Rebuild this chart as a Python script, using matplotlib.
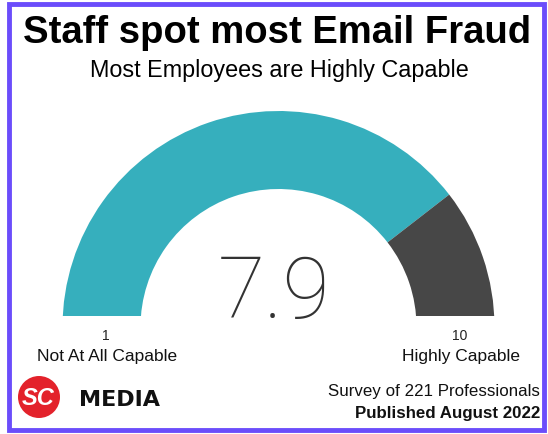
"""
Gauge: Staff spot most Email Fraud.
"""

import matplotlib.pyplot as plt
from matplotlib.patches import Wedge, Rectangle, Circle

# data
title = "Staff spot most Email Fraud"
subtitle = "Most Employees are Highly Capable"
score = 7.9
scale_min, scale_max = 0, 10
end_ticks = ["1", "10"]
end_labels = ["Not At All Capable", "Highly Capable"]
footer = ["Survey of 221 Professionals", "Published August 2022"]

TEAL = "#36afbd"
DARK = "#474747"
BORDER = "#6b4dfb"

W, H = 548, 435


def Y(py):
    # pixel row (from top) -> data y
    return H - py


def plot_gauge():
    fig = plt.figure(figsize=(W / 100, H / 100), dpi=100)
    ax = fig.add_axes([0, 0, 1, 1])
    ax.set_xlim(0, W)
    ax.set_ylim(0, H)
    ax.axis("off")

    # border
    ax.add_patch(Rectangle((9, Y(431)), 535, 426, fill=False,
                           ec=BORDER, lw=3.5))

    # gauge
    cx, cy = 278.5, Y(328)
    r_out, width = 216, 78
    frac = (score - scale_min) / (scale_max - scale_min)
    split = 180 - 180 * frac
    clip = Rectangle((0, Y(317)), W, 400, transform=ax.transData)
    for t1, t2, col in [(split, 180, TEAL), (0, split, DARK)]:
        w = Wedge((cx, cy), r_out, t1, t2, width=width, fc=col, ec="none")
        ax.add_patch(w)
        w.set_clip_path(clip)

    ax.text(cx - 4, Y(318), f"{score:.1f}", ha="center", va="baseline",
            fontsize=62, family=["Roboto", "DejaVu Sans"], fontweight="light",
            color="#333333")

    # titles
    ax.text(W / 2 + 3, Y(33), title, ha="center", va="center",
            fontsize=27.5, fontweight="bold", family="Liberation Sans")
    ax.text(W / 2 + 5, Y(71), subtitle, ha="center", va="center",
            fontsize=16.8, family="Liberation Sans")

    # ends of scale
    left_c = cx - r_out + width / 2
    right_c = cx + r_out - width / 2
    for x, tk, lb in zip([left_c, right_c], end_ticks, end_labels):
        ax.text(x + 4, Y(336), tk, ha="center", va="center", fontsize=10,
                family="Liberation Sans", color="#222222")
        ax.text(x + 6, Y(357), lb, ha="center", va="center", fontsize=12.5,
                family="Liberation Sans", color="#111111")

    # logo
    ax.add_patch(Circle((39, Y(398)), 21, fc="#e3222b", ec="none"))
    ax.text(38, Y(399), "SC", ha="center", va="center", fontsize=17,
            fontweight="bold", style="italic", color="white",
            family="Liberation Sans")
    ax.text(79, Y(400), "MEDIA", ha="left", va="center", fontsize=16,
            fontweight="bold", family="DejaVu Sans", color="#111111")

    # footer
    ax.text(540, Y(392), footer[0], ha="right", va="center", fontsize=12.2,
            family="Liberation Sans", color="#111111")
    ax.text(540, Y(414), footer[1], ha="right", va="center", fontsize=12.2,
            fontweight="bold", family="Liberation Sans", color="#111111")

    return fig


if __name__ == "__main__":
    fig = plot_gauge()
    fig.savefig("out.png", dpi=100, facecolor="white")
